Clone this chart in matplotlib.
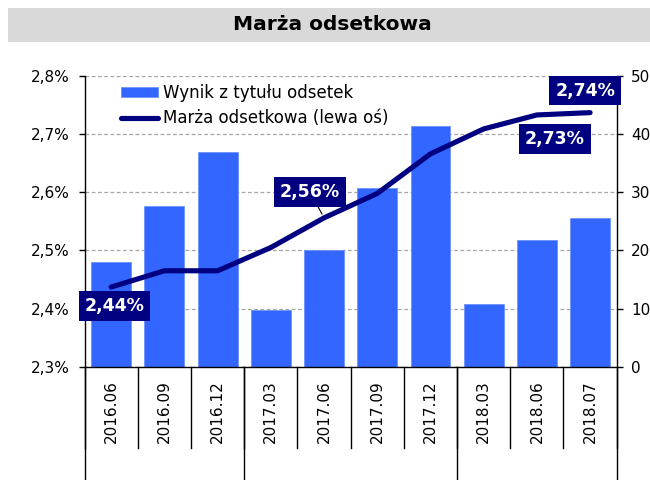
import matplotlib
matplotlib.use("Agg")
import matplotlib.pyplot as plt
from matplotlib.patches import Rectangle
from matplotlib.ticker import FuncFormatter
import matplotlib.transforms as mtransforms

categories = ['2016.06', '2016.09', '2016.12', '2017.03', '2017.06',
              '2017.09', '2017.12', '2018.03', '2018.06', '2018.07']
wynik = [18.0, 27.7, 36.9, 9.8, 20.0, 30.7, 41.4, 10.8, 21.8, 25.5]
marza = [2.437, 2.465, 2.465, 2.505, 2.556, 2.598, 2.666, 2.709, 2.733, 2.737]
year_breaks = [0, 3, 7, 10]  # group boundaries (category index)
labelled = {0: (3, -19), 4: (-14, 26), 8: (18, -24), 9: (-5, 22)}

BAR = '#3366FF'
NAVY = '#000080'

plt.rcParams['font.family'] = ['DejaVu Sans']

fig = plt.figure(figsize=(6.5, 4.8), dpi=100)
W, H = 650, 480
l, r, t, b = 84.6, 616.7, 76.0, 366.7
ax = fig.add_axes([l / W, 1 - b / H, (r - l) / W, (b - t) / H])
ax2 = ax.twinx()
ax.set_zorder(ax2.get_zorder() + 1)
ax.patch.set_visible(False)

# title band
fig.patches.append(Rectangle((7.5 / W, 1 - 41.7 / H), 1 - 7.5 / W, 33.4 / H,
                             transform=fig.transFigure, facecolor='#d9d9d9',
                             edgecolor='none', zorder=0))
fig.text(332 / W, 1 - 25 / H, 'Marża odsetkowa', ha='center', va='center',
         fontsize=14.5, fontweight='bold', color='black')

x = list(range(len(categories)))
bars = ax2.bar(x, wynik, width=0.75, color=BAR, edgecolor='#6f93ff',
               linewidth=0.6, zorder=2, label='Wynik z tytułu odsetek')
line, = ax.plot(x, marza, color=NAVY, lw=3.7, solid_capstyle='round',
                solid_joinstyle='round', zorder=3,
                label='Marża odsetkowa (lewa oś)')

ax.set_xlim(-0.5, len(categories) - 0.5)
ax.set_ylim(2.3, 2.8)
ax2.set_ylim(0, 50)
ax.set_yticks([2.3, 2.4, 2.5, 2.6, 2.7, 2.8])
ax2.set_yticks([0, 10, 20, 30, 40, 50])
ax.yaxis.set_major_formatter(FuncFormatter(lambda v, p: f"{v:.1f}".replace('.', ',') + '%'))

ax2.set_axisbelow(True)
ax2.yaxis.grid(True, color='#a6a6a6', linestyle=(0, (3, 2)), linewidth=0.9)

for a in (ax, ax2):
    a.spines['top'].set_visible(False)
ax.spines['right'].set_visible(False)
ax2.spines['left'].set_visible(False)
ax2.spines['bottom'].set_visible(False)
for s in ('left', 'bottom'):
    ax.spines[s].set_color('black')
    ax.spines[s].set_linewidth(1.0)
ax2.spines['right'].set_color('black')
ax2.spines['right'].set_linewidth(1.0)

ax.tick_params(axis='y', direction='out', length=4.5, width=1, pad=6,
               labelsize=11, colors='black')
ax2.tick_params(axis='y', direction='out', length=4.5, width=1, pad=6,
                labelsize=11, colors='black')
ax.set_xticks(x)
ax.set_xticklabels(categories, rotation=90, fontsize=11)
ax.tick_params(axis='x', length=0, pad=10)

# category separators and year group lines below the axis
trans = mtransforms.blended_transform_factory(ax.transData, ax.transAxes)
sep_bottom = (b - 448) / (b - t)
grp_bottom = (b - 482) / (b - t)
for i in range(len(categories) + 1):
    ax.plot([i - 0.5, i - 0.5], [0, sep_bottom], transform=trans, color='black',
            lw=1.0, clip_on=False, zorder=5)
for i in year_breaks:
    ax.plot([i - 0.5, i - 0.5], [0, grp_bottom], transform=trans, color='black',
            lw=1.0, clip_on=False, zorder=5)

# value labels
for i, (dx, dy) in labelled.items():
    txt = f"{marza[i]:.2f}".replace('.', ',') + '%'
    arrow = dict(arrowstyle='-', color='black', lw=0.8, shrinkA=0, shrinkB=3) if i == 4 else None
    ax.annotate(txt, xy=(i, marza[i]), xytext=(dx, dy), textcoords='offset pixels',
                ha='center', va='center', fontsize=12.5, fontweight='bold',
                color='white', zorder=6, arrowprops=arrow,
                bbox=dict(boxstyle='square,pad=0.33', facecolor=NAVY, edgecolor='none'))

leg = ax.legend(handles=[bars, line], loc='upper left',
                bbox_to_anchor=(121 / W, 1 - 84 / H), bbox_transform=fig.transFigure,
                frameon=False, fontsize=12, borderpad=0, borderaxespad=0,
                handlelength=2.2, handleheight=0.55, handletextpad=0.3,
                labelspacing=0.42)
leg.set_zorder(7)

fig.savefig('out.png', dpi=100)
